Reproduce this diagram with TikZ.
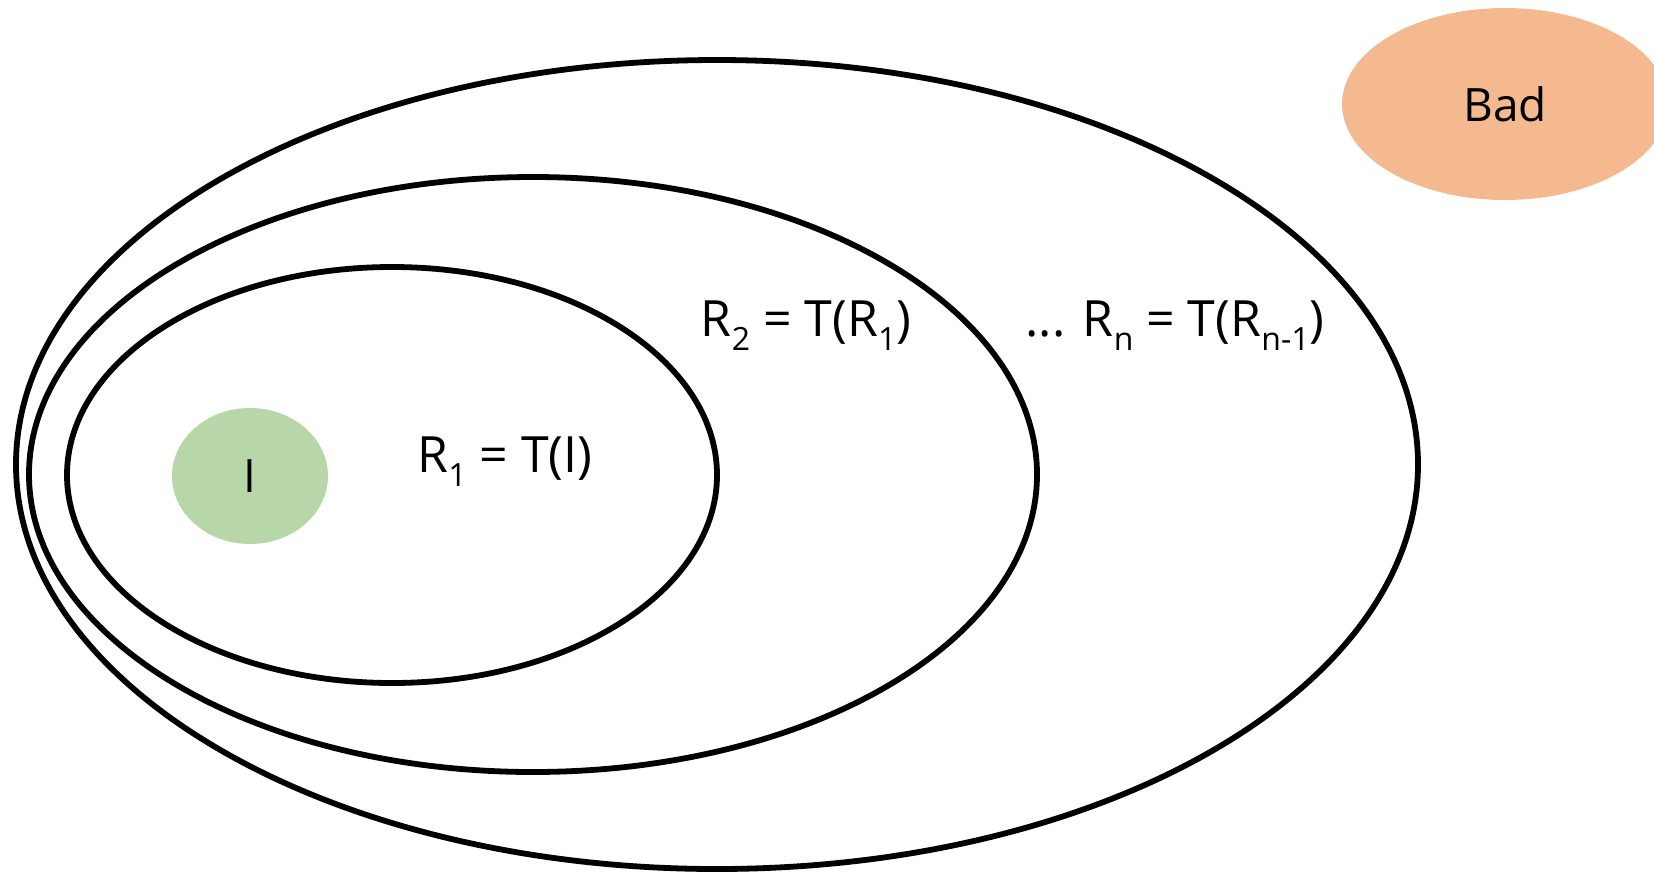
\documentclass[tikz,border=0pt]{standalone}
\usepackage{fontspec}
\setmainfont{Open Sans}
\usepackage{xcolor}
\usepackage{tikz}
\usetikzlibrary{shapes.geometric}

\definecolor{initgreen}{HTML}{B8D7A8}
\definecolor{badorange}{HTML}{F4B98E}
\newcommand{\lowidx}[1]{\raisebox{-0.28em}{\fontsize{16}{16}\selectfont #1}}

\begin{document}
\begin{tikzpicture}[x=0.5pt, y=-0.5pt,
    region/.style={draw, ellipse, line width=2.9pt, inner sep=0pt},
    blob/.style={ellipse, inner sep=0pt, font=\fontsize{23}{23}\selectfont},
    lbl/.style={font=\fontsize{25}{25}\selectfont, inner sep=0pt}]
  \useasboundingbox (0,0) rectangle (1654,874);
  \node[region, minimum width=701pt, minimum height=404.5pt] (rn) at (717,464.5) {};
  \node[region, minimum width=504pt, minimum height=297.5pt] (r2) at (533,474.5) {};
  \node[region, minimum width=325pt, minimum height=208pt]   (r1) at (392,475) {};
  \node[blob, fill=initgreen, minimum width=78pt, minimum height=68pt] (init) at (250,476) {I};
  \node[blob, fill=badorange, minimum width=163pt, minimum height=96pt] (bad) at (1505,104) {Bad};
  \node[lbl] (l1) at (505,462) {R\lowidx{1} = T(I)};
  \node[lbl] (l2) at (806,326) {R\lowidx{2} = T(R\lowidx{1})};
  \node[lbl] (ln) at (1175,326) {... R\lowidx{n} = T(R\lowidx{n-1})};
\end{tikzpicture}
\end{document}
